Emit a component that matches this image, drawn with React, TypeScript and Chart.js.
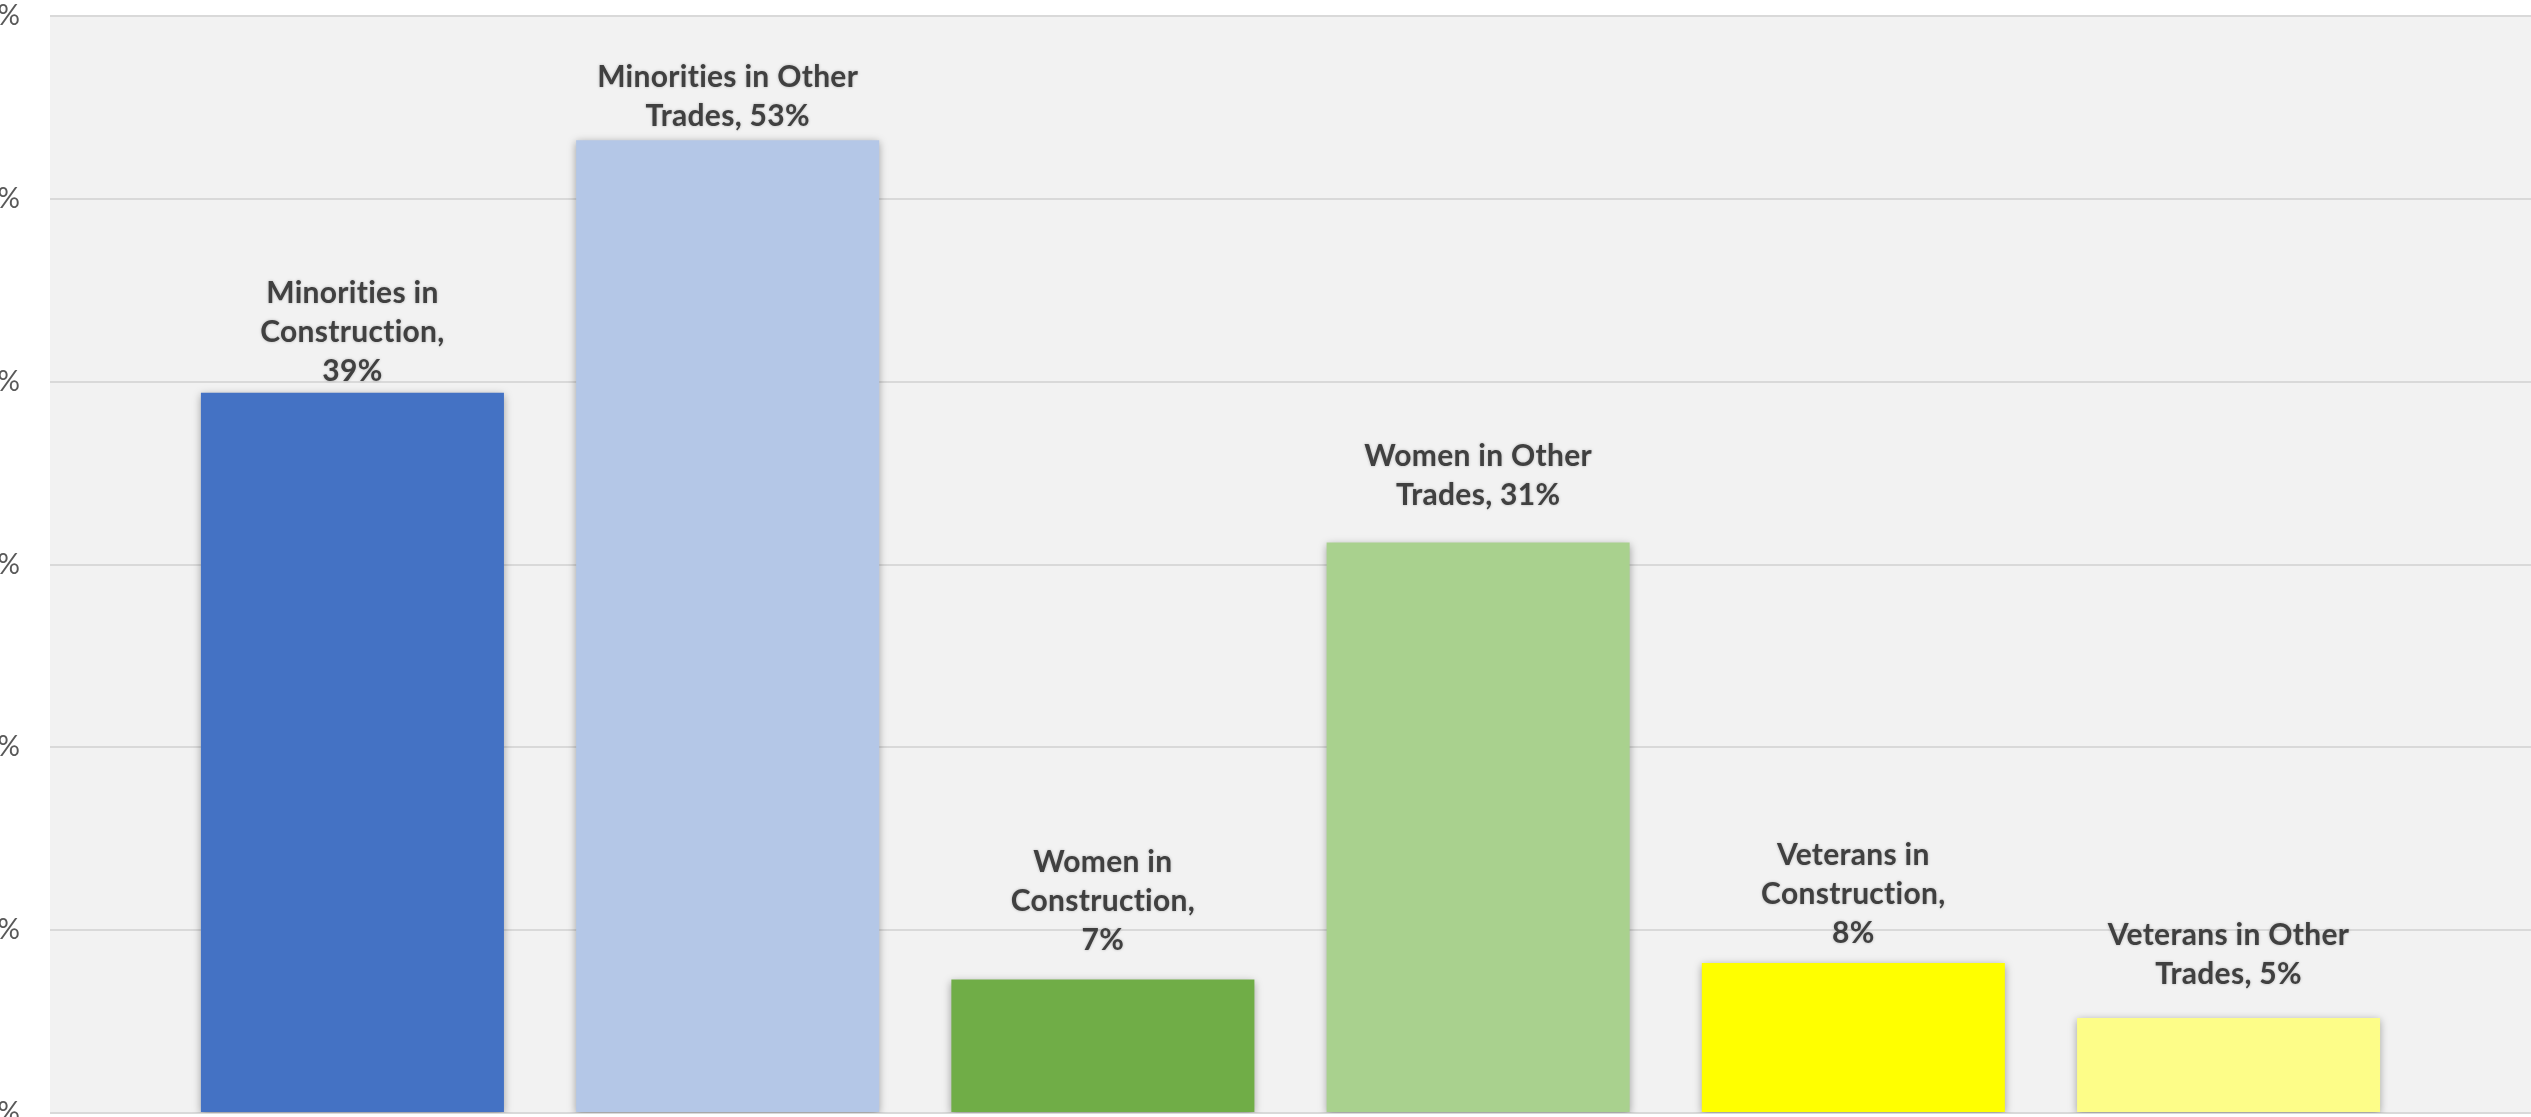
import React, { useEffect, useRef } from "react";
import { Chart, registerables } from "chart.js";

Chart.register(...registerables);

// ---- data ----
const CATEGORIES = [
  "Minorities in Construction",
  "Minorities in Other Trades",
  "Women in Construction",
  "Women in Other Trades",
  "Veterans in Construction",
  "Veterans in Other Trades",
];
const VALUES = [39.4, 53.2, 7.3, 31.2, 8.2, 5.2];
const LABEL_LINES = [
  ["Minorities in", "Construction,", "{v}"],
  ["Minorities in Other", "Trades, {v}"],
  ["Women in", "Construction,", "{v}"],
  ["Women in Other", "Trades, {v}"],
  ["Veterans in", "Construction,", "{v}"],
  ["Veterans in Other", "Trades, {v}"],
];
const Y_MAX = 60;
const Y_STEP = 10;

// ---- styles ----
const COLORS = ["#4472C4", "#B4C7E7", "#70AD47", "#A9D18E", "#FFFF00", "#FDFD88"];
const LABEL_GAPS = [12, 14, 30, 38, 20, 34];
const LABEL_LINE_HEIGHT = 39;

const bgPlugin = {
  id: "plotBg",
  beforeDraw(chart: any) {
    const { ctx, chartArea } = chart;
    ctx.save();
    ctx.fillStyle = "#F2F2F2";
    ctx.fillRect(chartArea.left, chartArea.top, chartArea.right - chartArea.left, chartArea.bottom - chartArea.top);
    ctx.restore();
  },
};

const shadowPlugin = {
  id: "barShadow",
  beforeDatasetsDraw(chart: any) {
    const ctx = chart.ctx;
    ctx.save();
    ctx.shadowColor = "rgba(0,0,0,0.35)";
    ctx.shadowBlur = 8;
    ctx.shadowOffsetX = 0;
    ctx.shadowOffsetY = 2;
  },
  afterDatasetsDraw(chart: any) {
    chart.ctx.restore();
  },
};

const labelPlugin = {
  id: "barLabels",
  afterDraw(chart: any) {
    const ctx = chart.ctx;
    const meta = chart.getDatasetMeta(0);
    ctx.save();
    ctx.font = "bold 30px Lato";
    try {
      (ctx as any).letterSpacing = "0.3px";
    } catch (e) {}
    ctx.fillStyle = "#404040";
    ctx.textAlign = "center";
    ctx.textBaseline = "alphabetic";
    ctx.shadowColor = "rgba(0,0,0,0.25)";
    ctx.shadowBlur = 3;
    meta.data.forEach((bar: any, i: number) => {
      const txt = Math.round(VALUES[i]) + "%";
      const lines = LABEL_LINES[i].map((l) => l.replace("{v}", txt));
      const baseY = bar.y - LABEL_GAPS[i];
      lines.forEach((line, j) => {
        const y = baseY - (lines.length - 1 - j) * LABEL_LINE_HEIGHT;
        ctx.fillText(line, bar.x, y);
      });
    });
    ctx.restore();
  },
};

export default function App() {
  const ref = useRef<HTMLCanvasElement | null>(null);
  useEffect(() => {
    if (!ref.current) return;
    const chart = new Chart(ref.current, {
      type: "bar",
      data: {
        datasets: [
          {
            label: "Share",
            data: VALUES.map((v, i) => ({ x: i, y: v })),
            backgroundColor: COLORS,
            borderWidth: 0,
            barPercentage: 0.8076,
            categoryPercentage: 1,
          } as any,
        ],
        labels: CATEGORIES,
      },
      options: {
        responsive: false,
        animation: false,
        devicePixelRatio: 1,
        layout: { padding: { top: 0, bottom: 47, left: 0, right: 0 } },
        plugins: { legend: { display: false }, tooltip: { enabled: false } },
        scales: {
          x: {
            type: "linear",
            min: -0.806,
            max: 5.806,
            offset: false,
            display: false,
            ticks: { stepSize: 1, includeBounds: false },
            grid: { offset: false },
          },
          y: {
            min: 0,
            max: Y_MAX,
            ticks: {
              stepSize: Y_STEP,
              callback: (v: any) => v + "%",
              padding: 30,
              color: "#595959",
              font: { size: 28, family: "Lato", lineHeight: 1 },
            },
            grid: { color: "#D9D9D9", lineWidth: 2, drawTicks: false },
            border: { display: false },
            afterFit: (s: any) => {
              s.width = 150;
            },
          },
        },
      },
      plugins: [bgPlugin, shadowPlugin, labelPlugin],
    });
    return () => chart.destroy();
  }, []);
  return (
    <div style={{ position: "fixed", left: -100, top: -28, width: 2631, height: 1188 }}>
      <canvas ref={ref} width={2631} height={1188} style={{ display: "block" }} />
    </div>
  );
}
